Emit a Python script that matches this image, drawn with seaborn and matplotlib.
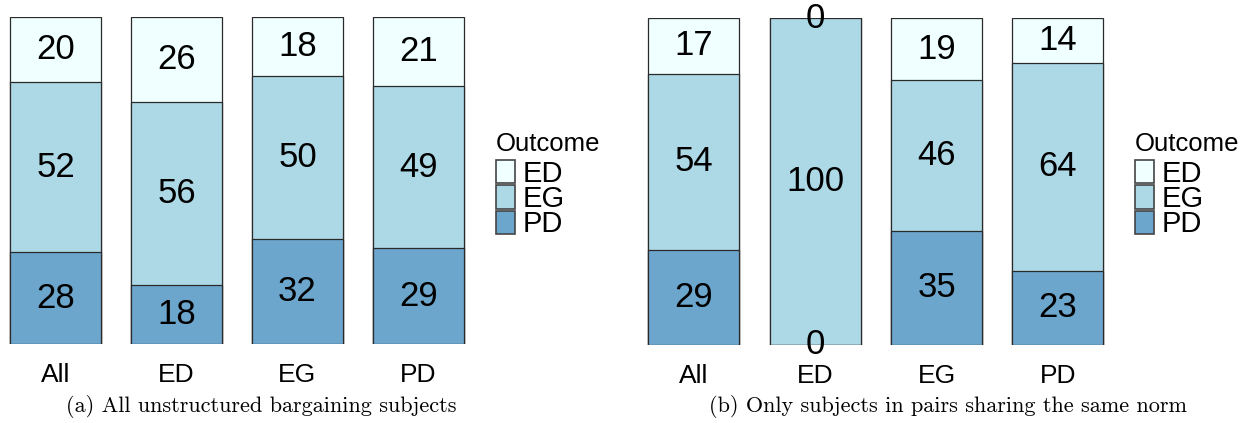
import matplotlib
matplotlib.use("Agg")
import matplotlib.pyplot as plt
import seaborn as sns
import pandas as pd
from matplotlib.patches import Patch

# Outcome shares (%) per partner group
groups = ["All", "ED", "EG", "PD"]
outcomes = ["ED", "EG", "PD"]

a_pd = [28, 18, 32, 29]
a_eg = [52, 56, 50, 49]
a_ed = [20, 26, 18, 21]

b_pd = [29, 0, 35, 23]
b_eg = [54, 100, 46, 64]
b_ed = [17, 0, 19, 14]

captions = [
    "(a) All unstructured bargaining subjects",
    "(b) Only subjects in pairs sharing the same norm",
]

colors = {"ED": "#F0FFFF", "EG": "#ADD8E6", "PD": "#6CA6CD"}

sns.set_theme(style="white")
plt.rcParams["font.family"] = ["Liberation Sans", "DejaVu Sans"]
plt.rcParams["text.color"] = "black"
plt.rcParams["xtick.color"] = "black"

W, H = 1246, 423
fig = plt.figure(figsize=(W / 100, H / 100), dpi=100)


def px_axes(left, top, right, bottom):
    return fig.add_axes([left / W, 1 - bottom / H, (right - left) / W, (bottom - top) / H])


def stacked_panel(ax, pd_vals, eg_vals, ed_vals):
    df = pd.DataFrame({"group": groups, "PD": pd_vals, "EG": eg_vals, "ED": ed_vals})
    total = df[["PD", "EG", "ED"]].sum(axis=1)
    share = df[["PD", "EG", "ED"]].div(total, axis=0) * 100
    cum_pd = share["PD"]
    cum_eg = cum_pd + share["EG"]
    cum_ed = cum_eg + share["ED"]
    # draw tallest cumulative bar first, then overlay the lower segments
    for col, cum in (("ED", cum_ed), ("EG", cum_eg), ("PD", cum_pd)):
        sns.barplot(x=df["group"], y=cum, order=groups, color=colors[col],
                    saturation=1, width=0.75, edgecolor="#2a2a2a", linewidth=0.9,
                    errorbar=None, ax=ax)
    # value labels centred in each segment
    bottoms = {"PD": cum_pd * 0, "EG": cum_pd, "ED": cum_eg}
    for col in ("PD", "EG", "ED"):
        for i in range(len(groups)):
            y = bottoms[col].iloc[i] + share[col].iloc[i] / 2
            ax.text(i, y, f"{df[col].iloc[i]}", ha="center", va="center",
                    fontsize=25, color="black", clip_on=False)
    ax.set_xlim(-0.45, 3.45)
    ax.set_ylim(0, 100)
    ax.set_xlabel("")
    ax.set_ylabel("")
    ax.set_yticks([])
    for s in ax.spines.values():
        s.set_visible(False)
    ax.tick_params(axis="x", length=0, pad=14, labelsize=19, labelcolor="black")


def outcome_legend(ax, left_px, center_px):
    handles = [Patch(facecolor=colors[o], edgecolor="#444444", linewidth=1.2) for o in outcomes]
    leg = ax.legend(handles, outcomes, title="Outcome", loc="center left",
                    bbox_to_anchor=(left_px / W, 1 - center_px / H),
                    bbox_transform=fig.transFigure, frameon=False,
                    fontsize=21, title_fontsize=18.5, alignment="left",
                    handlelength=0.65, handleheight=0.84, labelspacing=-0.1,
                    handletextpad=0.25, borderpad=0, borderaxespad=0)
    # a little more room between the title and the keys
    leg._legend_box.sep = 3
    for t in leg.get_texts():
        t.set_color("black")
    leg.get_title().set_color("black")
    return leg


ax_a = px_axes(1.05, 17, 472.95, 344)
stacked_panel(ax_a, a_pd, a_eg, a_ed)
outcome_legend(ax_a, 496, 185)

ax_b = px_axes(639.4, 18, 1112.5, 345)
stacked_panel(ax_b, b_pd, b_eg, b_ed)
outcome_legend(ax_b, 1135, 185)

fig.text(261 / W, 1 - 406 / H, captions[0], ha="center", va="center",
         family="cmr10", fontsize=16)
fig.text(948 / W, 1 - 406 / H, captions[1], ha="center", va="center",
         family="cmr10", fontsize=16)

fig.savefig("out.png", dpi=100)
